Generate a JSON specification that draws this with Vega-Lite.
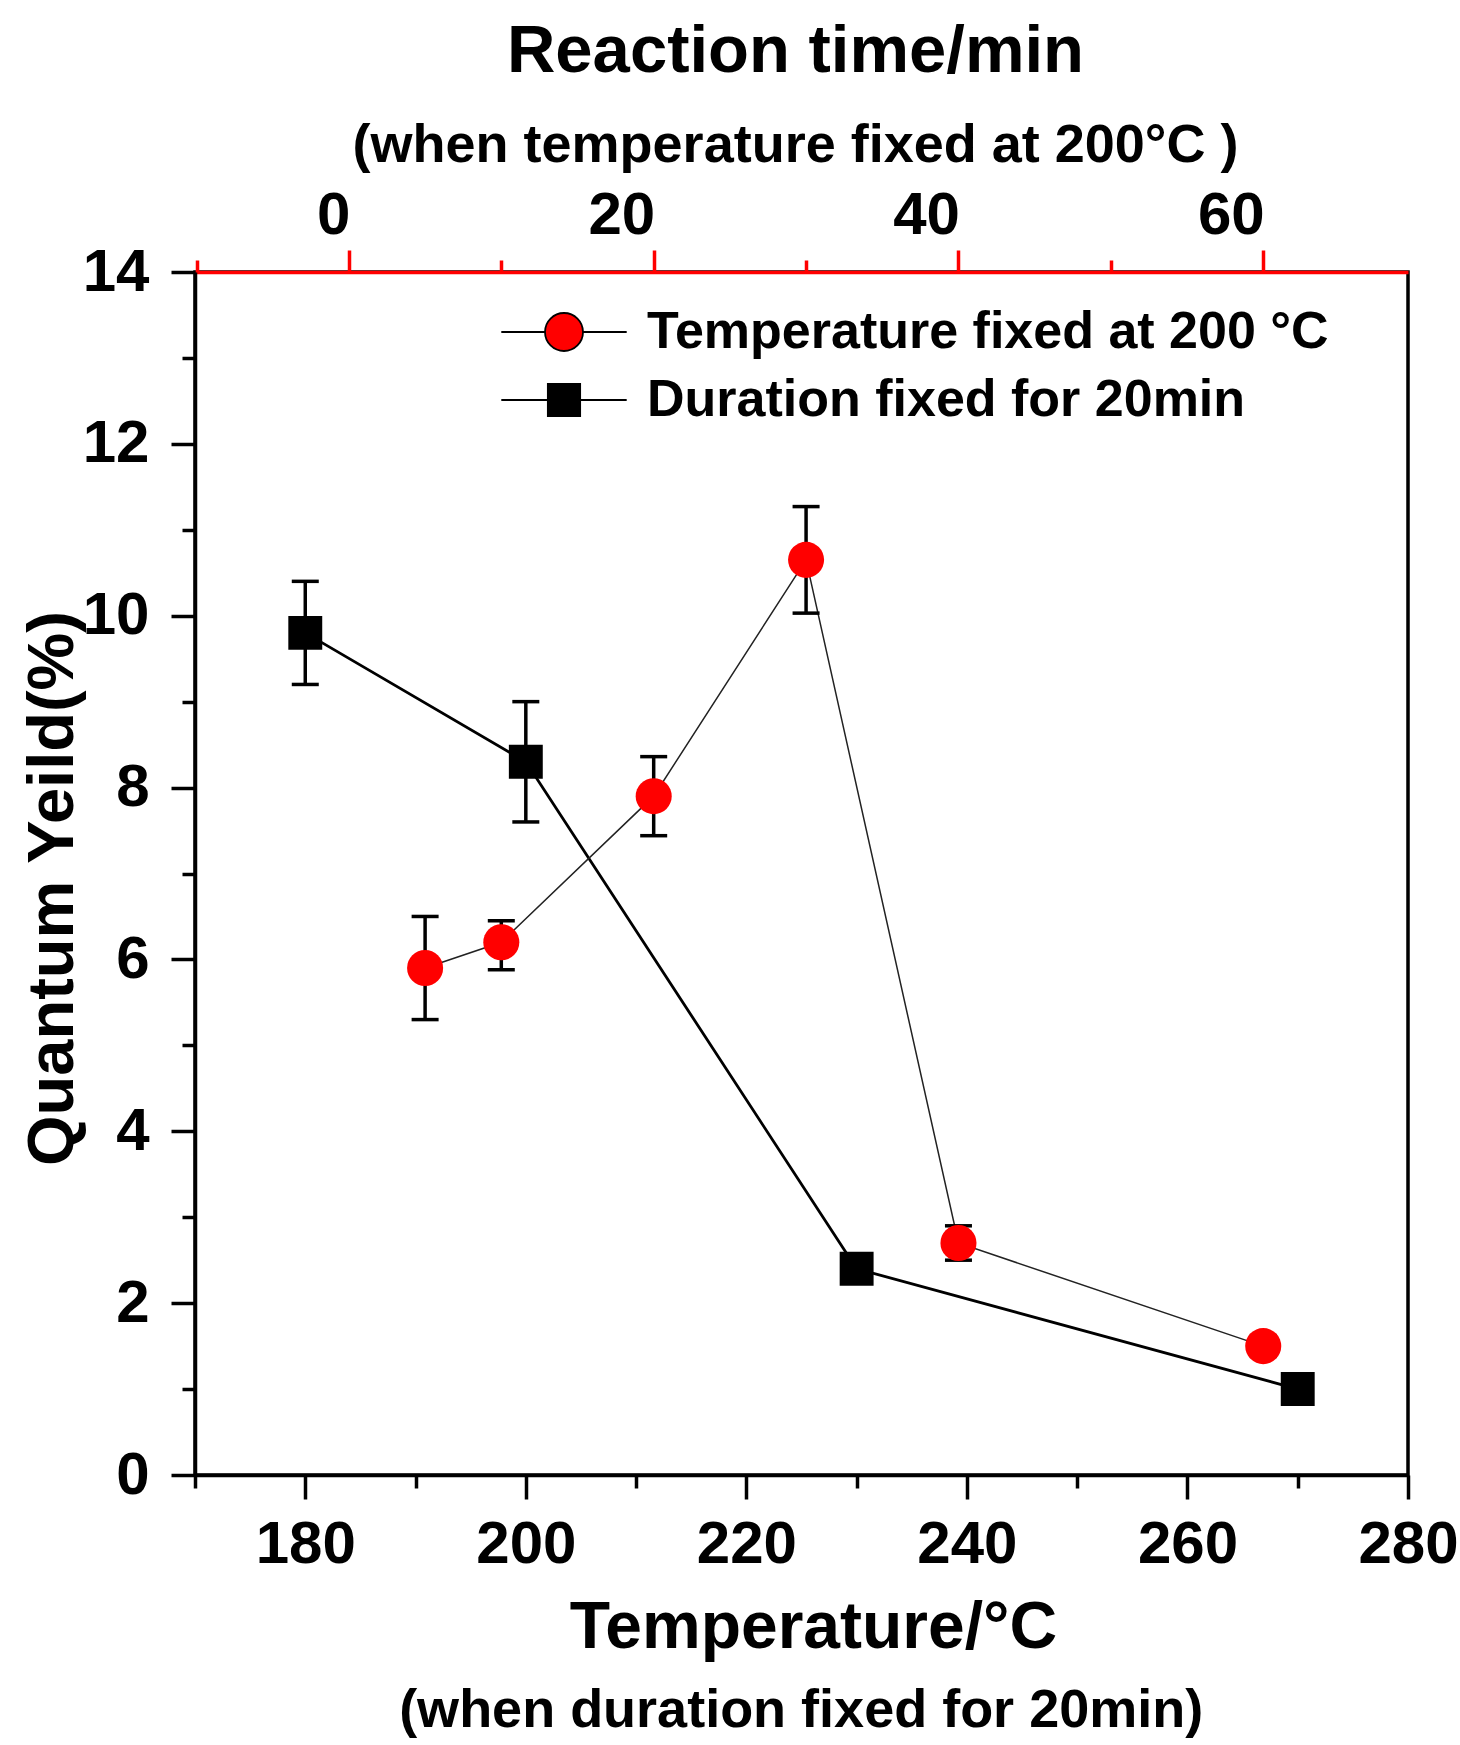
{
  "$schema": "https://vega.github.io/schema/vega-lite/v6.json",
  "background": "white",
  "padding": {"left": 18, "top": 16, "right": 2, "bottom": 2},
  "config": {
    "font": "Liberation Sans",
    "view": {"stroke": "black", "strokeWidth": 3.5},
    "axis": {
      "grid": false,
      "domainColor": "black",
      "domainWidth": 3.5,
      "tickColor": "black",
      "tickWidth": 3.5,
      "labelFont": "Liberation Sans",
      "labelFontWeight": "bold",
      "labelFontSize": 60,
      "labelColor": "black",
      "labelOverlap": false,
      "labelFlush": false,
      "titleFont": "Liberation Sans",
      "titleFontWeight": "bold",
      "titleColor": "black"
    },
    "legend": {
      "orient": "none",
      "legendX": 343,
      "legendY": 34,
      "labelFont": "Liberation Sans",
      "labelFontWeight": "bold",
      "labelFontSize": 52,
      "labelColor": "black",
      "labelLimit": 1000,
      "labelOffset": 57,
      "symbolSize": 1444,
      "symbolOpacity": 1,
      "symbolStrokeWidth": 1.8,
      "rowPadding": 16
    },
    "title": {
      "font": "Liberation Sans",
      "fontWeight": "bold",
      "color": "black",
      "subtitleFont": "Liberation Sans",
      "subtitleFontWeight": "bold",
      "subtitleColor": "black"
    }
  },
  "datasets": {
    "duration": [
      {"temp": 180, "qy": 9.8, "lo": 9.2, "hi": 10.4, "series": "Duration fixed for 20min"},
      {"temp": 200, "qy": 8.3, "lo": 7.6, "hi": 9.0, "series": "Duration fixed for 20min"},
      {"temp": 230, "qy": 2.4, "lo": 2.28, "hi": 2.52, "series": "Duration fixed for 20min"},
      {"temp": 270, "qy": 1.0, "lo": 0.9, "hi": 1.1, "series": "Duration fixed for 20min"}
    ],
    "temperature200": [
      {"time": 5, "qy": 5.9, "lo": 5.3, "hi": 6.5, "series": "Temperature fixed at 200 °C"},
      {"time": 10, "qy": 6.2, "lo": 5.88, "hi": 6.45, "series": "Temperature fixed at 200 °C"},
      {"time": 20, "qy": 7.9, "lo": 7.44, "hi": 8.36, "series": "Temperature fixed at 200 °C"},
      {"time": 30, "qy": 10.65, "lo": 10.03, "hi": 11.27, "series": "Temperature fixed at 200 °C"},
      {"time": 40, "qy": 2.7, "lo": 2.5, "hi": 2.9, "series": "Temperature fixed at 200 °C"},
      {"time": 60, "qy": 1.5, "lo": 1.38, "hi": 1.62, "series": "Temperature fixed at 200 °C"}
    ]
  },
  "title": {
    "text": "(when duration fixed for 20min)",
    "orient": "bottom",
    "fontSize": 54,
    "anchor": "middle",
    "offset": 22,
    "dx": 62
  },
  "vconcat": [
    {
      "width": 1213,
      "height": 1203,
      "title": {
        "text": "Reaction time/min",
        "subtitle": "(when temperature fixed at 200°C )",
        "fontSize": 67,
        "subtitleFontSize": 54,
        "subtitlePadding": 33,
        "anchor": "middle",
        "frame": "group",
        "offset": 11,
        "dx": -6
      },
      "encoding": {
        "y": {
          "field": "qy",
          "type": "quantitative",
          "scale": {"domain": [0, 14], "nice": false},
          "axis": {
            "title": "Quantum Yeild(%)",
            "titleFontSize": 65,
            "titlePadding": -4,
            "titleY": 616,
            "values": [0, 1, 2, 3, 4, 5, 6, 7, 8, 9, 10, 11, 12, 13, 14],
            "labelExpr": "datum.value % 2 === 0 ? datum.label : ''",
            "tickSize": {"condition": {"test": "datum.value % 2 === 0", "value": 24}, "value": 13},
            "labelPadding": 22
          }
        }
      },
      "layer": [
        {
          "data": {"name": "duration"},
          "encoding": {
            "x": {
              "field": "temp",
              "type": "quantitative",
              "scale": {"domain": [170, 280], "nice": false, "zero": false},
              "axis": {
                "orient": "bottom",
                "title": "Temperature/°C",
                "titleFontSize": 66,
                "titlePadding": 21,
                "titleX": 618,
                "values": [170, 180, 190, 200, 210, 220, 230, 240, 250, 260, 270, 280],
                "labelExpr": "datum.value % 20 === 0 ? datum.label : ''",
                "tickSize": {"condition": {"test": "datum.value % 20 === 0", "value": 24}, "value": 13},
                "labelPadding": 16
              }
            }
          },
          "layer": [
            {"mark": {"type": "line", "color": "black", "strokeWidth": 2.8}},
            {
              "mark": {"type": "rule", "color": "black", "strokeWidth": 3.5},
              "encoding": {"y": {"field": "lo", "type": "quantitative"}, "y2": {"field": "hi"}}
            },
            {
              "mark": {"type": "tick", "orient": "horizontal", "color": "black", "size": 27, "thickness": 3.5, "opacity": 1},
              "encoding": {"y": {"field": "lo", "type": "quantitative"}}
            },
            {
              "mark": {"type": "tick", "orient": "horizontal", "color": "black", "size": 27, "thickness": 3.5, "opacity": 1},
              "encoding": {"y": {"field": "hi", "type": "quantitative"}}
            },
            {
              "mark": {"type": "point", "shape": "square", "filled": true, "size": 1150, "opacity": 1, "color": "black"}
            },
            {
              "description": "legend key layer: line-and-marker symbols for each series",
              "mark": {"type": "point", "filled": true, "opacity": 0, "strokeWidth": 1.8},
              "encoding": {
                "color": {
                  "field": "series",
                  "type": "nominal",
                  "scale": {"domain": ["Temperature fixed at 200 °C", "Duration fixed for 20min"], "range": ["#ff0000", "#000000"]},
                  "legend": {"title": null}
                },
                "shape": {
                  "field": "series",
                  "type": "nominal",
                  "scale": {
                    "domain": ["Temperature fixed at 200 °C", "Duration fixed for 20min"],
                    "range": [
                      "M-3.3,0H-1M1,0H3.3M-1,0A1,1 0 1,1 1,0A1,1 0 1,1 -1,0Z",
                      "M-3.3,0H-0.85M0.85,0H3.3M-0.85,-0.85H0.85V0.85H-0.85Z"
                    ]
                  },
                  "legend": {"title": null}
                },
                "stroke": {"value": "black"}
              }
            }
          ]
        },
        {
          "data": {"name": "temperature200"},
          "encoding": {
            "x": {
              "field": "time",
              "type": "quantitative",
              "scale": {"domain": [-10.1, 69.5], "nice": false, "zero": false},
              "axis": {
                "orient": "top",
                "title": null,
                "domainColor": "#ff0000",
                "tickColor": "#ff0000",
                "values": [-10, 0, 10, 20, 30, 40, 50, 60, 70],
                "labelExpr": "datum.value % 20 === 0 ? datum.label : ''",
                "tickSize": {"condition": {"test": "datum.value % 20 === 0", "value": 22}, "value": 12},
                "labelAlign": "right",
                "labelOffset": 1,
                "labelPadding": 4
              }
            }
          },
          "layer": [
            {"mark": {"type": "line", "color": "#222222", "strokeWidth": 1.5}},
            {
              "mark": {"type": "rule", "color": "black", "strokeWidth": 3.5},
              "encoding": {"y": {"field": "lo", "type": "quantitative"}, "y2": {"field": "hi"}}
            },
            {
              "mark": {"type": "tick", "orient": "horizontal", "color": "black", "size": 27, "thickness": 3.5, "opacity": 1},
              "encoding": {"y": {"field": "lo", "type": "quantitative"}}
            },
            {
              "mark": {"type": "tick", "orient": "horizontal", "color": "black", "size": 27, "thickness": 3.5, "opacity": 1},
              "encoding": {"y": {"field": "hi", "type": "quantitative"}}
            },
            {
              "mark": {"type": "point", "shape": "circle", "filled": true, "size": 1300, "opacity": 1, "color": "#ff0000"}
            }
          ]
        }
      ],
      "resolve": {"scale": {"x": "independent"}, "axis": {"x": "independent"}}
    }
  ]
}
